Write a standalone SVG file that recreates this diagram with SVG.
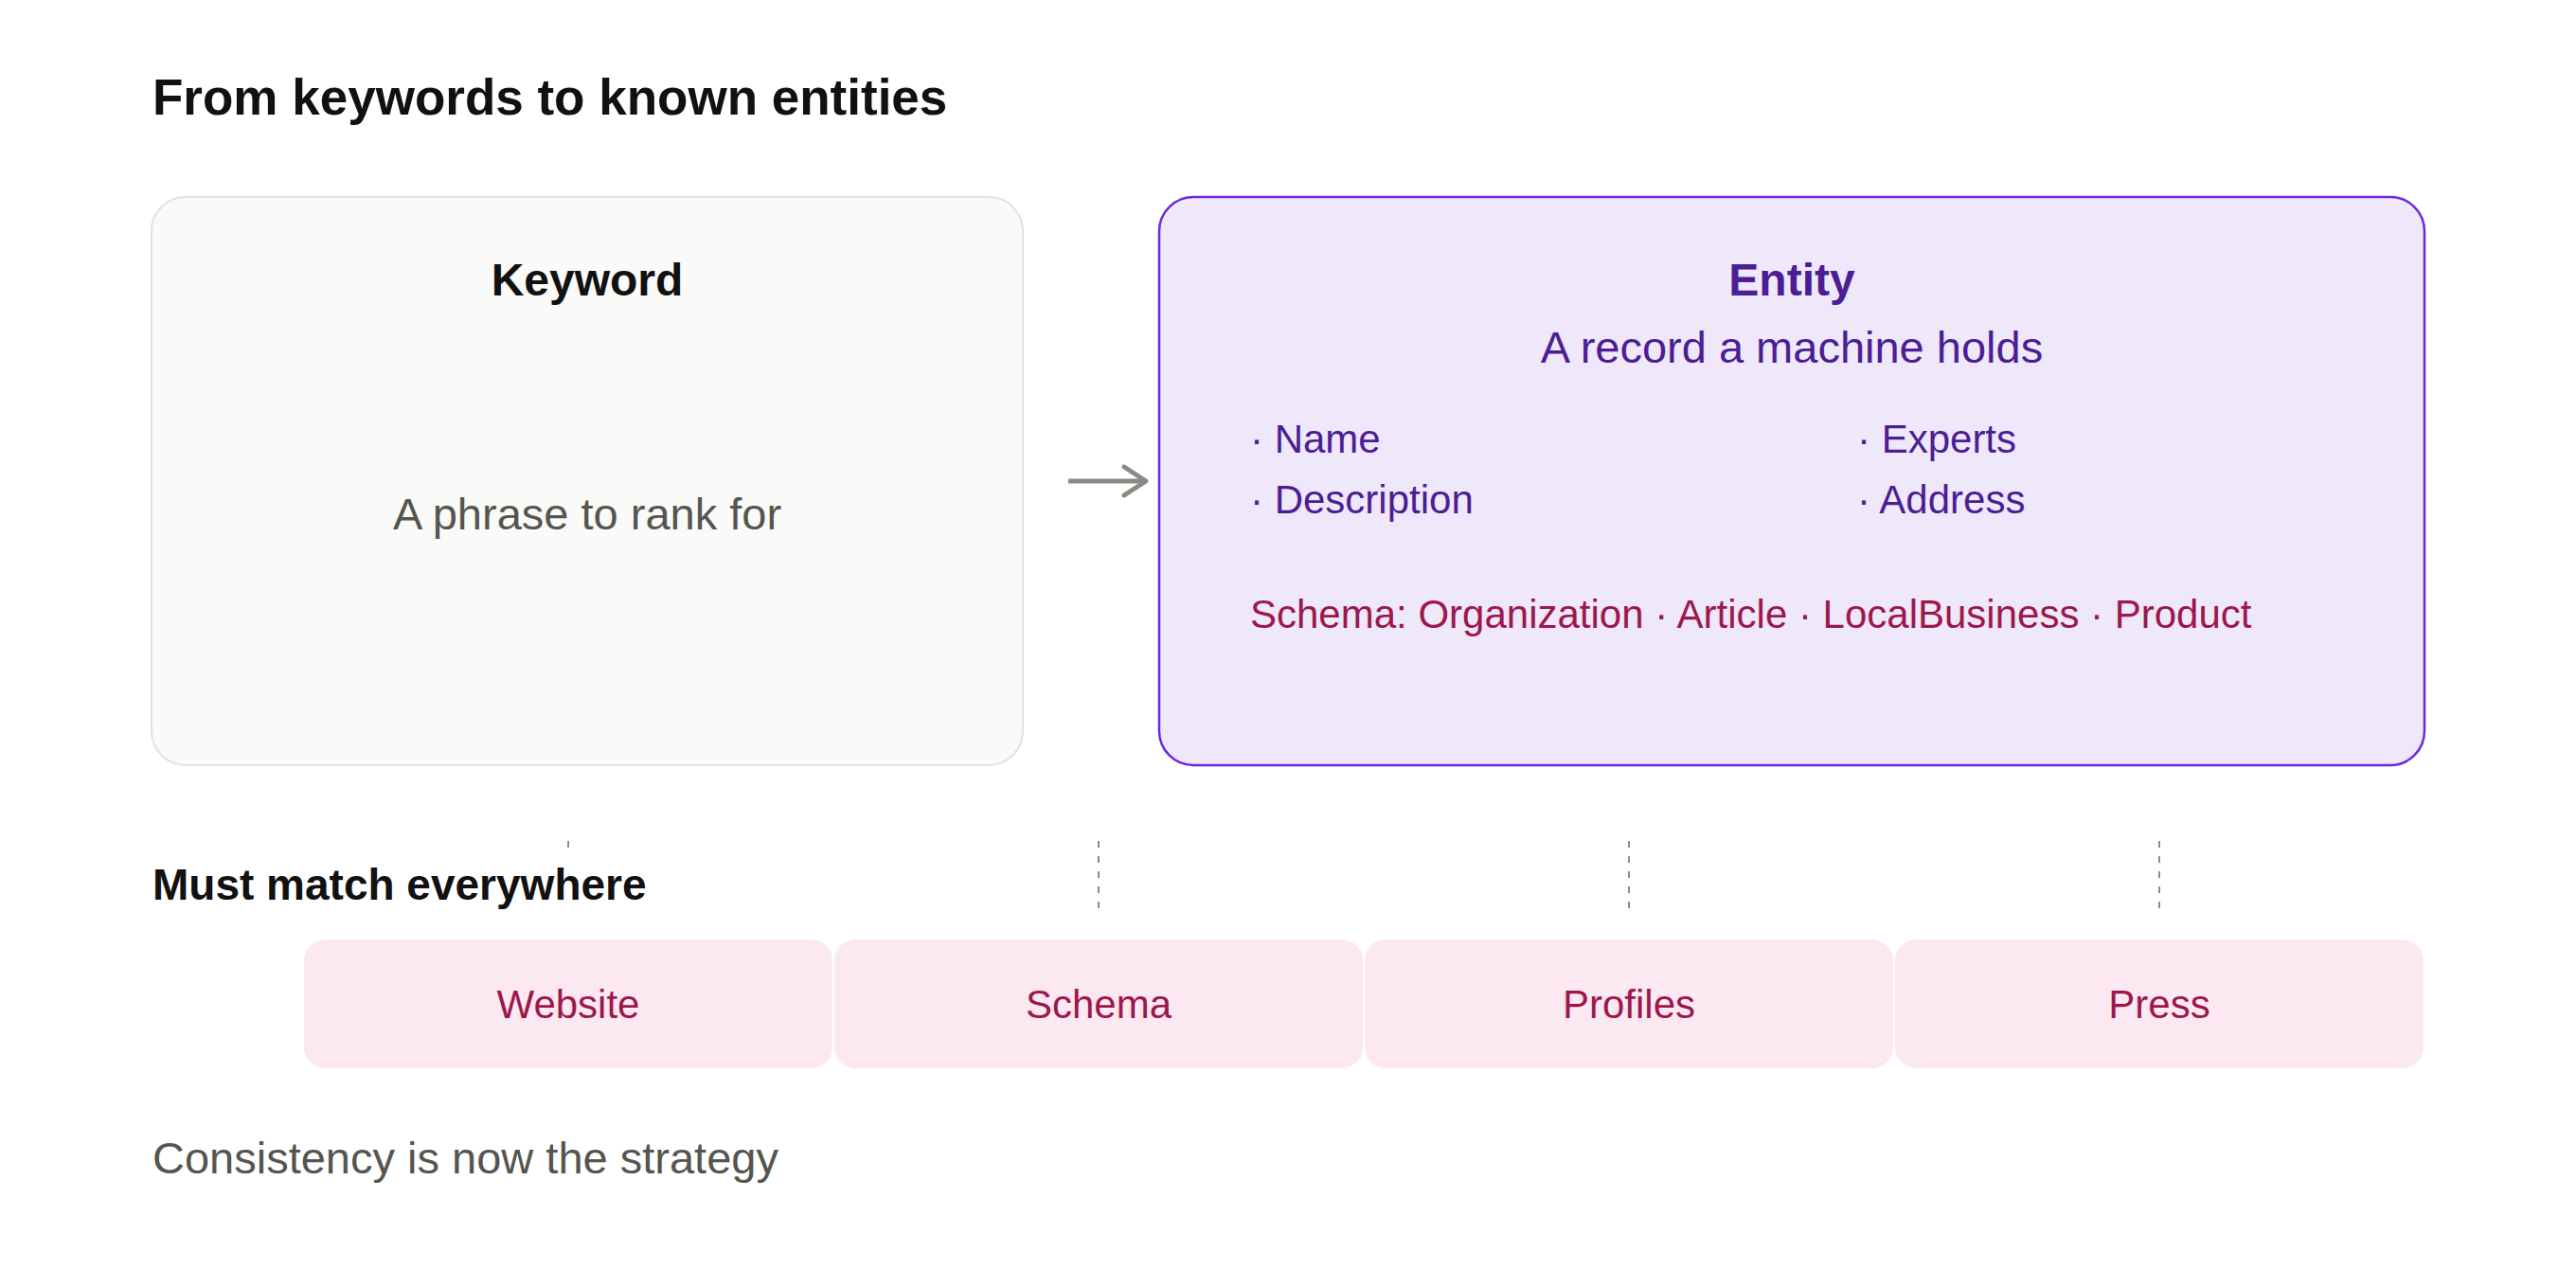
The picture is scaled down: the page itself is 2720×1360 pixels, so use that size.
<svg xmlns="http://www.w3.org/2000/svg" width="2720" height="1360" viewBox="0 0 2720 1360">
<style>
text { font-family: "Liberation Sans", Arial, sans-serif; }
.title { font-size: 53px; font-weight: 700; fill: #111111; }
.heading { font-size: 46px; font-weight: 700; fill: #111111; }
.nodeTitle { font-size: 48px; font-weight: 700; text-anchor: middle; }
.sub { font-size: 47px; text-anchor: middle; }
.muted { fill: #555550; }
.purple { fill: #4C1D95; }
.item { font-size: 42px; fill: #4C1D95; }
.schema { font-size: 42px; fill: #9D174D; }
.tile rect { fill: #FCE8F1; }
.tile text { font-size: 42px; fill: #9D174D; text-anchor: middle; }
.dash { stroke: #8C8C88; stroke-width: 2; stroke-dasharray: 7 9; fill: none; }
.footer { font-size: 47px; fill: #555550; }
</style>

<rect x="0" y="0" width="2720" height="1360" fill="#FFFFFF"/>

<text class="title" x="161" y="121">From keywords to known entities</text>

<g id="node-keyword">
  <rect x="160" y="208" width="920" height="600" rx="36" ry="36" fill="#FAFAF8" stroke="#E2E2DE" stroke-width="2"/>
  <text class="nodeTitle" x="620" y="312" fill="#111111">Keyword</text>
  <text class="sub muted" x="620" y="559">A phrase to rank for</text>
</g>

<g id="node-entity">
  <rect x="1224" y="208" width="1336" height="600" rx="36" ry="36" fill="#EEE8FA" stroke="#6D28D9" stroke-width="2.5"/>
  <text class="nodeTitle purple" x="1892" y="312">Entity</text>
  <text class="sub purple" x="1892" y="383">A record a machine holds</text>
  <text class="item" x="1320" y="478">· Name</text>
  <text class="item" x="1320" y="542">· Description</text>
  <text class="item" x="1961" y="478">· Experts</text>
  <text class="item" x="1961" y="542">· Address</text>
  <text class="schema" x="1320" y="663">Schema: Organization · Article · LocalBusiness · Product</text>
</g>

<text class="heading" x="161" y="950">Must match everywhere</text>

<g id="node-website" class="tile">
  <rect x="321" y="992" width="558" height="136" rx="22" ry="22"/>
  <text x="600" y="1075">Website</text>
</g>
<g id="node-schema" class="tile">
  <rect x="881" y="992" width="558" height="136" rx="22" ry="22"/>
  <text x="1160" y="1075">Schema</text>
</g>
<g id="node-profiles" class="tile">
  <rect x="1441" y="992" width="558" height="136" rx="22" ry="22"/>
  <text x="1720" y="1075">Profiles</text>
</g>
<g id="node-press" class="tile">
  <rect x="2001" y="992" width="558" height="136" rx="22" ry="22"/>
  <text x="2280" y="1075">Press</text>
</g>

<g id="connectors">
  <line x1="1128" y1="508" x2="1208" y2="508" stroke="#8A8A84" stroke-width="5"/>
  <polyline points="1187,493 1210,508 1187,523" fill="none" stroke="#8A8A84" stroke-width="5" stroke-linecap="round" stroke-linejoin="round"/>
  <line class="dash" x1="600" y1="888" x2="600" y2="895"/>
  <line class="dash" x1="1160" y1="888" x2="1160" y2="960"/>
  <line class="dash" x1="1720" y1="888" x2="1720" y2="960"/>
  <line class="dash" x1="2280" y1="888" x2="2280" y2="960"/>
</g>

<text class="footer" x="161" y="1239">Consistency is now the strategy</text>
</svg>
